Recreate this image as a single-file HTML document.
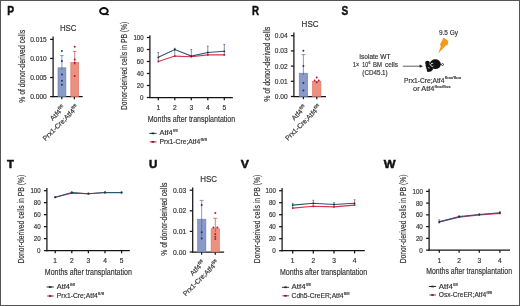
<!DOCTYPE html>
<html><head><meta charset="utf-8"><style>
html,body{margin:0;padding:0;background:#fff;}
#c{position:relative;width:520px;height:306px;overflow:hidden;background:#fff;}
svg{position:absolute;left:0;top:0;font-family:"Liberation Sans", sans-serif;will-change:transform;}
text{stroke:#333;stroke-width:0.18px;}
</style></head><body><div id="c">
<svg width="520" height="306" viewBox="0 0 520 306">
<rect x="0" y="0" width="520" height="306" fill="#fff"/>
<text x="7.30" y="15.40" font-size="12.2" font-weight="bold" fill="#111" style="stroke:#111;stroke-width:0.5px" textLength="6.80" lengthAdjust="spacingAndGlyphs">P</text>
<ellipse cx="103.9" cy="11.1" rx="3.8" ry="3.1" fill="none" stroke="#111" stroke-width="2.0"/>
<path d="M105.2,13.6 L109.0,14.2 L109.0,15.3 L105.0,15.0 Z" fill="#111"/>
<text x="252.00" y="15.40" font-size="12.2" font-weight="bold" fill="#111" style="stroke:#111;stroke-width:0.5px" textLength="7.00" lengthAdjust="spacingAndGlyphs">R</text>
<text x="341.60" y="15.40" font-size="12.2" font-weight="bold" fill="#111" style="stroke:#111;stroke-width:0.5px" textLength="6.70" lengthAdjust="spacingAndGlyphs">S</text>
<text x="6.90" y="168.30" font-size="11.3" font-weight="bold" fill="#111" style="stroke:#111;stroke-width:0.5px" textLength="6.90" lengthAdjust="spacingAndGlyphs">T</text>
<text x="148.90" y="168.30" font-size="11.3" font-weight="bold" fill="#111" style="stroke:#111;stroke-width:0.5px" textLength="8.30" lengthAdjust="spacingAndGlyphs">U</text>
<text x="240.70" y="168.30" font-size="11.3" font-weight="bold" fill="#111" style="stroke:#111;stroke-width:0.5px" textLength="8.20" lengthAdjust="spacingAndGlyphs">V</text>
<text x="383.80" y="168.30" font-size="11.3" font-weight="bold" fill="#111" style="stroke:#111;stroke-width:0.5px" textLength="11.80" lengthAdjust="spacingAndGlyphs">W</text>
<line x1="53.10" y1="36.60" x2="53.10" y2="97.22" stroke="#141414" stroke-width="1.25" />
<line x1="50.10" y1="39.39" x2="53.10" y2="39.39" stroke="#141414" stroke-width="1.25" />
<text x="46.80" y="41.97" font-size="7.2" text-anchor="end" fill="#333" font-weight="normal" textLength="16.60" lengthAdjust="spacingAndGlyphs" >0.015</text>
<line x1="50.10" y1="58.46" x2="53.10" y2="58.46" stroke="#141414" stroke-width="1.25" />
<text x="46.80" y="61.04" font-size="7.2" text-anchor="end" fill="#333" font-weight="normal" textLength="16.60" lengthAdjust="spacingAndGlyphs" >0.010</text>
<line x1="50.10" y1="77.53" x2="53.10" y2="77.53" stroke="#141414" stroke-width="1.25" />
<text x="46.80" y="80.11" font-size="7.2" text-anchor="end" fill="#333" font-weight="normal" textLength="16.60" lengthAdjust="spacingAndGlyphs" >0.005</text>
<line x1="50.10" y1="96.60" x2="53.10" y2="96.60" stroke="#141414" stroke-width="1.25" />
<text x="46.80" y="99.18" font-size="7.2" text-anchor="end" fill="#333" font-weight="normal" textLength="16.60" lengthAdjust="spacingAndGlyphs" >0.000</text>
<line x1="52.48" y1="96.60" x2="82.70" y2="96.60" stroke="#141414" stroke-width="1.25" />
<line x1="61.80" y1="96.60" x2="61.80" y2="99.30" stroke="#141414" stroke-width="1.25" />
<line x1="74.40" y1="96.60" x2="74.40" y2="99.30" stroke="#141414" stroke-width="1.25" />
<rect x="58.00" y="67.80" width="7.90" height="28.80" fill="#8a9ac8" stroke="#6a7fb0" stroke-width="0.6"/>
<rect x="70.80" y="62.50" width="7.90" height="34.10" fill="#ec907f" stroke="#dc7062" stroke-width="0.6"/>
<line x1="61.90" y1="55.60" x2="61.90" y2="70.00" stroke="#4562a0" stroke-width="0.65" />
<line x1="60.10" y1="55.60" x2="63.70" y2="55.60" stroke="#4562a0" stroke-width="0.65" />
<line x1="74.70" y1="51.40" x2="74.70" y2="65.00" stroke="#c83848" stroke-width="0.65" />
<line x1="72.90" y1="51.40" x2="76.50" y2="51.40" stroke="#c83848" stroke-width="0.65" />
<circle cx="61.90" cy="51.00" r="1.0" fill="#22366a"/>
<circle cx="61.90" cy="61.00" r="1.0" fill="#22366a"/>
<circle cx="61.90" cy="74.50" r="1.0" fill="#22366a"/>
<circle cx="61.90" cy="80.80" r="1.0" fill="#22366a"/>
<circle cx="61.90" cy="84.70" r="1.0" fill="#22366a"/>
<circle cx="74.70" cy="46.80" r="1.0" fill="#b8182e"/>
<circle cx="74.70" cy="59.60" r="1.0" fill="#b8182e"/>
<circle cx="74.70" cy="63.00" r="1.0" fill="#b8182e"/>
<circle cx="74.70" cy="76.00" r="1.0" fill="#b8182e"/>
<text x="59.90" y="31.00" font-size="8.6" text-anchor="start" fill="#333" font-weight="normal" textLength="16.60" lengthAdjust="spacingAndGlyphs" >HSC</text>
<text transform="translate(24.90,66.30) rotate(-90)" x="0" y="0" font-size="9.0" text-anchor="middle" fill="#333" textLength="73.00" lengthAdjust="spacingAndGlyphs">% of donor-derived cells</text>
<text transform="translate(65.40,108.40) rotate(-45)" font-size="6.9" text-anchor="end" fill="#333">Atf4<tspan font-size="4.28" dy="-2.90">fl/fl</tspan></text>
<text transform="translate(79.00,107.80) rotate(-45)" font-size="6.9" text-anchor="end" fill="#333">Prx1-Cre;Atf4<tspan font-size="4.28" dy="-2.90">fl/fl</tspan></text>
<line x1="293.90" y1="32.60" x2="293.90" y2="97.12" stroke="#141414" stroke-width="1.25" />
<line x1="290.90" y1="35.70" x2="293.90" y2="35.70" stroke="#141414" stroke-width="1.25" />
<text x="287.60" y="38.28" font-size="7.2" text-anchor="end" fill="#333" font-weight="normal" textLength="12.80" lengthAdjust="spacingAndGlyphs" >0.04</text>
<line x1="290.90" y1="50.90" x2="293.90" y2="50.90" stroke="#141414" stroke-width="1.25" />
<text x="287.60" y="53.48" font-size="7.2" text-anchor="end" fill="#333" font-weight="normal" textLength="12.80" lengthAdjust="spacingAndGlyphs" >0.03</text>
<line x1="290.90" y1="66.10" x2="293.90" y2="66.10" stroke="#141414" stroke-width="1.25" />
<text x="287.60" y="68.68" font-size="7.2" text-anchor="end" fill="#333" font-weight="normal" textLength="12.80" lengthAdjust="spacingAndGlyphs" >0.02</text>
<line x1="290.90" y1="81.30" x2="293.90" y2="81.30" stroke="#141414" stroke-width="1.25" />
<text x="287.60" y="83.88" font-size="7.2" text-anchor="end" fill="#333" font-weight="normal" textLength="12.80" lengthAdjust="spacingAndGlyphs" >0.01</text>
<line x1="290.90" y1="96.50" x2="293.90" y2="96.50" stroke="#141414" stroke-width="1.25" />
<text x="287.60" y="99.08" font-size="7.2" text-anchor="end" fill="#333" font-weight="normal" textLength="12.80" lengthAdjust="spacingAndGlyphs" >0.00</text>
<line x1="293.27" y1="96.50" x2="326.00" y2="96.50" stroke="#141414" stroke-width="1.25" />
<line x1="303.40" y1="96.50" x2="303.40" y2="99.20" stroke="#141414" stroke-width="1.25" />
<line x1="316.80" y1="96.50" x2="316.80" y2="99.20" stroke="#141414" stroke-width="1.25" />
<rect x="299.20" y="73.20" width="8.40" height="23.30" fill="#8a9ac8" stroke="#6a7fb0" stroke-width="0.6"/>
<rect x="312.50" y="81.40" width="8.40" height="15.10" fill="#ec907f" stroke="#dc7062" stroke-width="0.6"/>
<line x1="303.40" y1="54.60" x2="303.40" y2="75.00" stroke="#4562a0" stroke-width="0.65" />
<line x1="301.40" y1="54.60" x2="305.40" y2="54.60" stroke="#4562a0" stroke-width="0.65" />
<circle cx="303.40" cy="50.80" r="1.0" fill="#22366a"/>
<circle cx="303.40" cy="66.10" r="1.0" fill="#22366a"/>
<circle cx="303.40" cy="83.10" r="1.0" fill="#22366a"/>
<circle cx="303.40" cy="90.60" r="1.0" fill="#22366a"/>
<circle cx="316.70" cy="77.60" r="1.0" fill="#b8182e"/>
<circle cx="314.60" cy="80.50" r="1.0" fill="#b8182e"/>
<circle cx="318.70" cy="80.50" r="1.0" fill="#b8182e"/>
<circle cx="316.70" cy="82.20" r="1.0" fill="#b8182e"/>
<text x="301.60" y="27.00" font-size="8.6" text-anchor="start" fill="#333" font-weight="normal" textLength="17.00" lengthAdjust="spacingAndGlyphs" >HSC</text>
<text transform="translate(269.60,64.30) rotate(-90)" x="0" y="0" font-size="9.0" text-anchor="middle" fill="#333" textLength="75.00" lengthAdjust="spacingAndGlyphs">% of donor-derived cells</text>
<text transform="translate(306.90,108.10) rotate(-45)" font-size="6.9" text-anchor="end" fill="#333">Atf4<tspan font-size="4.28" dy="-2.90">fl/fl</tspan></text>
<text transform="translate(321.40,107.60) rotate(-45)" font-size="6.9" text-anchor="end" fill="#333">Prx1-Cre;Atf4<tspan font-size="4.28" dy="-2.90">fl/fl</tspan></text>
<line x1="192.70" y1="187.60" x2="192.70" y2="252.62" stroke="#141414" stroke-width="1.25" />
<line x1="189.70" y1="190.20" x2="192.70" y2="190.20" stroke="#141414" stroke-width="1.25" />
<text x="186.30" y="192.78" font-size="7.2" text-anchor="end" fill="#333" font-weight="normal" textLength="13.20" lengthAdjust="spacingAndGlyphs" >0.03</text>
<line x1="189.70" y1="210.80" x2="192.70" y2="210.80" stroke="#141414" stroke-width="1.25" />
<text x="186.30" y="213.38" font-size="7.2" text-anchor="end" fill="#333" font-weight="normal" textLength="13.20" lengthAdjust="spacingAndGlyphs" >0.02</text>
<line x1="189.70" y1="231.40" x2="192.70" y2="231.40" stroke="#141414" stroke-width="1.25" />
<text x="186.30" y="233.98" font-size="7.2" text-anchor="end" fill="#333" font-weight="normal" textLength="13.20" lengthAdjust="spacingAndGlyphs" >0.01</text>
<line x1="189.70" y1="252.00" x2="192.70" y2="252.00" stroke="#141414" stroke-width="1.25" />
<text x="186.30" y="254.58" font-size="7.2" text-anchor="end" fill="#333" font-weight="normal" textLength="13.20" lengthAdjust="spacingAndGlyphs" >0.00</text>
<line x1="192.07" y1="252.00" x2="224.10" y2="252.00" stroke="#141414" stroke-width="1.25" />
<line x1="201.60" y1="252.00" x2="201.60" y2="254.70" stroke="#141414" stroke-width="1.25" />
<line x1="215.30" y1="252.00" x2="215.30" y2="254.70" stroke="#141414" stroke-width="1.25" />
<rect x="197.60" y="219.20" width="8.30" height="32.80" fill="#8a9ac8" stroke="#6a7fb0" stroke-width="0.6"/>
<rect x="211.10" y="228.70" width="8.30" height="23.30" fill="#ec907f" stroke="#dc7062" stroke-width="0.6"/>
<line x1="201.70" y1="200.40" x2="201.70" y2="238.60" stroke="#4562a0" stroke-width="0.65" />
<line x1="199.70" y1="200.40" x2="203.70" y2="200.40" stroke="#4562a0" stroke-width="0.65" />
<line x1="215.30" y1="218.30" x2="215.30" y2="232.00" stroke="#c83848" stroke-width="0.65" />
<line x1="213.20" y1="218.30" x2="217.40" y2="218.30" stroke="#c83848" stroke-width="0.65" />
<circle cx="201.70" cy="204.90" r="1.0" fill="#22366a"/>
<circle cx="201.70" cy="232.20" r="1.0" fill="#22366a"/>
<circle cx="201.70" cy="238.60" r="1.0" fill="#22366a"/>
<circle cx="215.30" cy="213.00" r="1.0" fill="#b8182e"/>
<circle cx="213.40" cy="227.60" r="1.0" fill="#b8182e"/>
<circle cx="217.30" cy="227.60" r="1.0" fill="#b8182e"/>
<circle cx="215.30" cy="233.90" r="1.0" fill="#b8182e"/>
<circle cx="215.30" cy="236.70" r="1.0" fill="#b8182e"/>
<circle cx="215.30" cy="239.00" r="1.0" fill="#b8182e"/>
<text x="200.30" y="182.40" font-size="8.6" text-anchor="start" fill="#333" font-weight="normal" textLength="16.80" lengthAdjust="spacingAndGlyphs" >HSC</text>
<text transform="translate(167.20,219.20) rotate(-90)" x="0" y="0" font-size="8.2" text-anchor="middle" fill="#333" textLength="73.00" lengthAdjust="spacingAndGlyphs">% of donor-derived cells</text>
<text transform="translate(205.30,263.40) rotate(-45)" font-size="6.9" text-anchor="end" fill="#333">Atf4<tspan font-size="4.28" dy="-2.90">fl/fl</tspan></text>
<text transform="translate(219.20,263.00) rotate(-45)" font-size="6.9" text-anchor="end" fill="#333">Prx1-Cre;Atf4<tspan font-size="4.28" dy="-2.90">fl/fl</tspan></text>
<line x1="149.90" y1="35.30" x2="149.90" y2="98.12" stroke="#141414" stroke-width="1.25" />
<line x1="146.90" y1="37.50" x2="149.90" y2="37.50" stroke="#141414" stroke-width="1.25" />
<text x="143.60" y="40.08" font-size="7.2" text-anchor="end" fill="#333" font-weight="normal" textLength="10.20" lengthAdjust="spacingAndGlyphs" >100</text>
<line x1="146.90" y1="49.50" x2="149.90" y2="49.50" stroke="#141414" stroke-width="1.25" />
<text x="143.60" y="52.08" font-size="7.2" text-anchor="end" fill="#333" font-weight="normal" textLength="6.90" lengthAdjust="spacingAndGlyphs" >80</text>
<line x1="146.90" y1="61.50" x2="149.90" y2="61.50" stroke="#141414" stroke-width="1.25" />
<text x="143.60" y="64.08" font-size="7.2" text-anchor="end" fill="#333" font-weight="normal" textLength="6.90" lengthAdjust="spacingAndGlyphs" >60</text>
<line x1="146.90" y1="73.50" x2="149.90" y2="73.50" stroke="#141414" stroke-width="1.25" />
<text x="143.60" y="76.08" font-size="7.2" text-anchor="end" fill="#333" font-weight="normal" textLength="6.90" lengthAdjust="spacingAndGlyphs" >40</text>
<line x1="146.90" y1="85.50" x2="149.90" y2="85.50" stroke="#141414" stroke-width="1.25" />
<text x="143.60" y="88.08" font-size="7.2" text-anchor="end" fill="#333" font-weight="normal" textLength="6.90" lengthAdjust="spacingAndGlyphs" >20</text>
<line x1="146.90" y1="97.50" x2="149.90" y2="97.50" stroke="#141414" stroke-width="1.25" />
<text x="143.60" y="100.08" font-size="7.2" text-anchor="end" fill="#333" font-weight="normal" textLength="3.50" lengthAdjust="spacingAndGlyphs" >0</text>
<line x1="149.28" y1="97.50" x2="232.90" y2="97.50" stroke="#141414" stroke-width="1.25" />
<line x1="158.30" y1="97.50" x2="158.30" y2="100.20" stroke="#141414" stroke-width="1.25" />
<line x1="174.80" y1="97.50" x2="174.80" y2="100.20" stroke="#141414" stroke-width="1.25" />
<line x1="191.30" y1="97.50" x2="191.30" y2="100.20" stroke="#141414" stroke-width="1.25" />
<line x1="207.80" y1="97.50" x2="207.80" y2="100.20" stroke="#141414" stroke-width="1.25" />
<line x1="224.30" y1="97.50" x2="224.30" y2="100.20" stroke="#141414" stroke-width="1.25" />
<text x="158.30" y="109.91" font-size="7.0" text-anchor="middle" fill="#333" font-weight="normal" textLength="3.70" lengthAdjust="spacingAndGlyphs" >1</text>
<text x="174.80" y="109.91" font-size="7.0" text-anchor="middle" fill="#333" font-weight="normal" textLength="3.70" lengthAdjust="spacingAndGlyphs" >2</text>
<text x="191.30" y="109.91" font-size="7.0" text-anchor="middle" fill="#333" font-weight="normal" textLength="3.70" lengthAdjust="spacingAndGlyphs" >3</text>
<text x="207.80" y="109.91" font-size="7.0" text-anchor="middle" fill="#333" font-weight="normal" textLength="3.70" lengthAdjust="spacingAndGlyphs" >4</text>
<text x="224.30" y="109.91" font-size="7.0" text-anchor="middle" fill="#333" font-weight="normal" textLength="3.70" lengthAdjust="spacingAndGlyphs" >5</text>
<text x="191.45" y="121.80" font-size="9.2" text-anchor="middle" fill="#333" font-weight="normal" textLength="87.50" lengthAdjust="spacingAndGlyphs" >Months after transplantation</text>
<text transform="translate(126.50,65.85) rotate(-90)" x="0" y="0" font-size="8.8" text-anchor="middle" fill="#333" textLength="88.30" lengthAdjust="spacingAndGlyphs">Donor-derived cells in PB (%)</text>
<line x1="158.30" y1="52.50" x2="158.30" y2="61.50" stroke="#3e526a" stroke-width="0.65" />
<line x1="157.40" y1="52.50" x2="159.20" y2="52.50" stroke="#3e526a" stroke-width="0.65" />
<line x1="174.80" y1="48.30" x2="174.80" y2="56.10" stroke="#3e526a" stroke-width="0.65" />
<line x1="173.90" y1="48.30" x2="175.70" y2="48.30" stroke="#3e526a" stroke-width="0.65" />
<line x1="191.30" y1="49.50" x2="191.30" y2="56.70" stroke="#3e526a" stroke-width="0.65" />
<line x1="190.40" y1="49.50" x2="192.20" y2="49.50" stroke="#3e526a" stroke-width="0.65" />
<line x1="207.80" y1="46.20" x2="207.80" y2="54.90" stroke="#3e526a" stroke-width="0.65" />
<line x1="206.90" y1="46.20" x2="208.70" y2="46.20" stroke="#3e526a" stroke-width="0.65" />
<line x1="224.30" y1="44.40" x2="224.30" y2="54.90" stroke="#3e526a" stroke-width="0.65" />
<line x1="223.40" y1="44.40" x2="225.20" y2="44.40" stroke="#3e526a" stroke-width="0.65" />
<polyline points="158.30,61.50 174.80,56.10 191.30,56.70 207.80,54.90 224.30,54.90" fill="none" stroke="#dc2f4c" stroke-width="1.1"/>
<polyline points="158.30,57.30 174.80,49.50 191.30,56.10 207.80,52.50 224.30,51.30" fill="none" stroke="#2a5676" stroke-width="1.1"/>
<circle cx="158.30" cy="61.50" r="0.9" fill="#b01830"/>
<circle cx="174.80" cy="56.10" r="0.9" fill="#b01830"/>
<circle cx="191.30" cy="56.70" r="0.9" fill="#b01830"/>
<circle cx="207.80" cy="54.90" r="0.9" fill="#b01830"/>
<circle cx="224.30" cy="54.90" r="0.9" fill="#b01830"/>
<circle cx="158.30" cy="57.30" r="0.9" fill="#1c2f44"/>
<circle cx="174.80" cy="49.50" r="0.9" fill="#1c2f44"/>
<circle cx="191.30" cy="56.10" r="0.9" fill="#1c2f44"/>
<circle cx="207.80" cy="52.50" r="0.9" fill="#1c2f44"/>
<circle cx="224.30" cy="51.30" r="0.9" fill="#1c2f44"/>
<line x1="149.30" y1="133.40" x2="156.50" y2="133.40" stroke="#1e4048" stroke-width="1.0" />
<line x1="151.60" y1="133.40" x2="154.20" y2="133.40" stroke="#10262c" stroke-width="1.6" />
<line x1="149.80" y1="141.90" x2="156.50" y2="141.90" stroke="#b02a44" stroke-width="1.0" />
<line x1="151.60" y1="141.90" x2="154.20" y2="141.90" stroke="#7a1424" stroke-width="1.6" />
<text x="159.50" y="135.40" font-size="7.0" text-anchor="start" fill="#333" font-weight="normal" textLength="13.20" lengthAdjust="spacingAndGlyphs" >Atf4</text>
<text x="173.00" y="132.40" font-size="4.2" text-anchor="start" fill="#333" font-weight="normal" textLength="4.50" lengthAdjust="spacingAndGlyphs" >fl/fl</text>
<text x="159.50" y="143.90" font-size="7.0" text-anchor="start" fill="#333" font-weight="normal" textLength="40.70" lengthAdjust="spacingAndGlyphs" >Prx1-Cre;Atf4</text>
<text x="200.50" y="140.90" font-size="4.2" text-anchor="start" fill="#333" font-weight="normal" textLength="6.40" lengthAdjust="spacingAndGlyphs" >fl/fl</text>
<line x1="46.90" y1="188.10" x2="46.90" y2="251.22" stroke="#141414" stroke-width="1.25" />
<line x1="43.90" y1="190.70" x2="46.90" y2="190.70" stroke="#141414" stroke-width="1.25" />
<text x="40.60" y="193.28" font-size="7.2" text-anchor="end" fill="#333" font-weight="normal" textLength="10.20" lengthAdjust="spacingAndGlyphs" >100</text>
<line x1="43.90" y1="202.68" x2="46.90" y2="202.68" stroke="#141414" stroke-width="1.25" />
<text x="40.60" y="205.26" font-size="7.2" text-anchor="end" fill="#333" font-weight="normal" textLength="6.90" lengthAdjust="spacingAndGlyphs" >80</text>
<line x1="43.90" y1="214.66" x2="46.90" y2="214.66" stroke="#141414" stroke-width="1.25" />
<text x="40.60" y="217.24" font-size="7.2" text-anchor="end" fill="#333" font-weight="normal" textLength="6.90" lengthAdjust="spacingAndGlyphs" >60</text>
<line x1="43.90" y1="226.64" x2="46.90" y2="226.64" stroke="#141414" stroke-width="1.25" />
<text x="40.60" y="229.22" font-size="7.2" text-anchor="end" fill="#333" font-weight="normal" textLength="6.90" lengthAdjust="spacingAndGlyphs" >40</text>
<line x1="43.90" y1="238.62" x2="46.90" y2="238.62" stroke="#141414" stroke-width="1.25" />
<text x="40.60" y="241.20" font-size="7.2" text-anchor="end" fill="#333" font-weight="normal" textLength="6.90" lengthAdjust="spacingAndGlyphs" >20</text>
<line x1="43.90" y1="250.60" x2="46.90" y2="250.60" stroke="#141414" stroke-width="1.25" />
<text x="40.60" y="253.18" font-size="7.2" text-anchor="end" fill="#333" font-weight="normal" textLength="3.50" lengthAdjust="spacingAndGlyphs" >0</text>
<line x1="46.27" y1="250.60" x2="129.80" y2="250.60" stroke="#141414" stroke-width="1.25" />
<line x1="55.20" y1="250.60" x2="55.20" y2="253.30" stroke="#141414" stroke-width="1.25" />
<line x1="71.80" y1="250.60" x2="71.80" y2="253.30" stroke="#141414" stroke-width="1.25" />
<line x1="88.40" y1="250.60" x2="88.40" y2="253.30" stroke="#141414" stroke-width="1.25" />
<line x1="105.00" y1="250.60" x2="105.00" y2="253.30" stroke="#141414" stroke-width="1.25" />
<line x1="121.60" y1="250.60" x2="121.60" y2="253.30" stroke="#141414" stroke-width="1.25" />
<text x="55.20" y="263.01" font-size="7.0" text-anchor="middle" fill="#333" font-weight="normal" textLength="3.70" lengthAdjust="spacingAndGlyphs" >1</text>
<text x="71.80" y="263.01" font-size="7.0" text-anchor="middle" fill="#333" font-weight="normal" textLength="3.70" lengthAdjust="spacingAndGlyphs" >2</text>
<text x="88.40" y="263.01" font-size="7.0" text-anchor="middle" fill="#333" font-weight="normal" textLength="3.70" lengthAdjust="spacingAndGlyphs" >3</text>
<text x="105.00" y="263.01" font-size="7.0" text-anchor="middle" fill="#333" font-weight="normal" textLength="3.70" lengthAdjust="spacingAndGlyphs" >4</text>
<text x="121.60" y="263.01" font-size="7.0" text-anchor="middle" fill="#333" font-weight="normal" textLength="3.70" lengthAdjust="spacingAndGlyphs" >5</text>
<text x="88.30" y="274.90" font-size="9.2" text-anchor="middle" fill="#333" font-weight="normal" textLength="87.00" lengthAdjust="spacingAndGlyphs" >Months after transplantation</text>
<text transform="translate(23.60,219.20) rotate(-90)" x="0" y="0" font-size="8.8" text-anchor="middle" fill="#333" textLength="88.80" lengthAdjust="spacingAndGlyphs">Donor-derived cells in PB (%)</text>
<line x1="55.20" y1="196.69" x2="55.20" y2="197.29" stroke="#3e526a" stroke-width="0.65" />
<line x1="54.30" y1="196.69" x2="56.10" y2="196.69" stroke="#3e526a" stroke-width="0.65" />
<line x1="71.80" y1="191.90" x2="71.80" y2="193.10" stroke="#3e526a" stroke-width="0.65" />
<line x1="70.90" y1="191.90" x2="72.70" y2="191.90" stroke="#3e526a" stroke-width="0.65" />
<line x1="88.40" y1="193.10" x2="88.40" y2="193.69" stroke="#3e526a" stroke-width="0.65" />
<line x1="87.50" y1="193.10" x2="89.30" y2="193.10" stroke="#3e526a" stroke-width="0.65" />
<line x1="105.00" y1="191.90" x2="105.00" y2="192.50" stroke="#3e526a" stroke-width="0.65" />
<line x1="104.10" y1="191.90" x2="105.90" y2="191.90" stroke="#3e526a" stroke-width="0.65" />
<line x1="121.60" y1="191.90" x2="121.60" y2="192.80" stroke="#3e526a" stroke-width="0.65" />
<line x1="120.70" y1="191.90" x2="122.50" y2="191.90" stroke="#3e526a" stroke-width="0.65" />
<polyline points="55.20,197.29 71.80,193.10 88.40,193.69 105.00,192.50 121.60,192.80" fill="none" stroke="#dc2f4c" stroke-width="1.1"/>
<polyline points="55.20,197.29 71.80,192.50 88.40,193.69 105.00,192.50 121.60,192.50" fill="none" stroke="#2a5676" stroke-width="1.1"/>
<circle cx="55.20" cy="197.29" r="0.9" fill="#b01830"/>
<circle cx="71.80" cy="193.10" r="0.9" fill="#b01830"/>
<circle cx="88.40" cy="193.69" r="0.9" fill="#b01830"/>
<circle cx="105.00" cy="192.50" r="0.9" fill="#b01830"/>
<circle cx="121.60" cy="192.80" r="0.9" fill="#b01830"/>
<circle cx="55.20" cy="197.29" r="0.9" fill="#1c2f44"/>
<circle cx="71.80" cy="192.50" r="0.9" fill="#1c2f44"/>
<circle cx="88.40" cy="193.69" r="0.9" fill="#1c2f44"/>
<circle cx="105.00" cy="192.50" r="0.9" fill="#1c2f44"/>
<circle cx="121.60" cy="192.50" r="0.9" fill="#1c2f44"/>
<line x1="46.60" y1="287.00" x2="53.80" y2="287.00" stroke="#1e4048" stroke-width="1.0" />
<line x1="48.90" y1="287.00" x2="51.50" y2="287.00" stroke="#10262c" stroke-width="1.6" />
<line x1="47.10" y1="296.00" x2="53.80" y2="296.00" stroke="#b02a44" stroke-width="1.0" />
<line x1="48.90" y1="296.00" x2="51.50" y2="296.00" stroke="#7a1424" stroke-width="1.6" />
<text x="56.80" y="289.00" font-size="7.0" text-anchor="start" fill="#333" font-weight="normal" textLength="13.20" lengthAdjust="spacingAndGlyphs" >Atf4</text>
<text x="70.30" y="286.00" font-size="4.2" text-anchor="start" fill="#333" font-weight="normal" textLength="4.90" lengthAdjust="spacingAndGlyphs" >fl/fl</text>
<text x="56.80" y="298.00" font-size="7.0" text-anchor="start" fill="#333" font-weight="normal" textLength="41.00" lengthAdjust="spacingAndGlyphs" >Prx1-Cre;Atf4</text>
<text x="98.10" y="295.00" font-size="4.2" text-anchor="start" fill="#333" font-weight="normal" textLength="5.90" lengthAdjust="spacingAndGlyphs" >fl/fl</text>
<line x1="282.10" y1="188.10" x2="282.10" y2="251.32" stroke="#141414" stroke-width="1.25" />
<line x1="279.10" y1="190.70" x2="282.10" y2="190.70" stroke="#141414" stroke-width="1.25" />
<text x="275.80" y="193.28" font-size="7.2" text-anchor="end" fill="#333" font-weight="normal" textLength="10.20" lengthAdjust="spacingAndGlyphs" >100</text>
<line x1="279.10" y1="202.70" x2="282.10" y2="202.70" stroke="#141414" stroke-width="1.25" />
<text x="275.80" y="205.28" font-size="7.2" text-anchor="end" fill="#333" font-weight="normal" textLength="6.90" lengthAdjust="spacingAndGlyphs" >80</text>
<line x1="279.10" y1="214.70" x2="282.10" y2="214.70" stroke="#141414" stroke-width="1.25" />
<text x="275.80" y="217.28" font-size="7.2" text-anchor="end" fill="#333" font-weight="normal" textLength="6.90" lengthAdjust="spacingAndGlyphs" >60</text>
<line x1="279.10" y1="226.70" x2="282.10" y2="226.70" stroke="#141414" stroke-width="1.25" />
<text x="275.80" y="229.28" font-size="7.2" text-anchor="end" fill="#333" font-weight="normal" textLength="6.90" lengthAdjust="spacingAndGlyphs" >40</text>
<line x1="279.10" y1="238.70" x2="282.10" y2="238.70" stroke="#141414" stroke-width="1.25" />
<text x="275.80" y="241.28" font-size="7.2" text-anchor="end" fill="#333" font-weight="normal" textLength="6.90" lengthAdjust="spacingAndGlyphs" >20</text>
<line x1="279.10" y1="250.70" x2="282.10" y2="250.70" stroke="#141414" stroke-width="1.25" />
<text x="275.80" y="253.28" font-size="7.2" text-anchor="end" fill="#333" font-weight="normal" textLength="3.50" lengthAdjust="spacingAndGlyphs" >0</text>
<line x1="281.48" y1="250.70" x2="364.80" y2="250.70" stroke="#141414" stroke-width="1.25" />
<line x1="292.70" y1="250.70" x2="292.70" y2="253.40" stroke="#141414" stroke-width="1.25" />
<line x1="313.30" y1="250.70" x2="313.30" y2="253.40" stroke="#141414" stroke-width="1.25" />
<line x1="334.00" y1="250.70" x2="334.00" y2="253.40" stroke="#141414" stroke-width="1.25" />
<line x1="354.60" y1="250.70" x2="354.60" y2="253.40" stroke="#141414" stroke-width="1.25" />
<text x="292.70" y="263.11" font-size="7.0" text-anchor="middle" fill="#333" font-weight="normal" textLength="3.70" lengthAdjust="spacingAndGlyphs" >1</text>
<text x="313.30" y="263.11" font-size="7.0" text-anchor="middle" fill="#333" font-weight="normal" textLength="3.70" lengthAdjust="spacingAndGlyphs" >2</text>
<text x="334.00" y="263.11" font-size="7.0" text-anchor="middle" fill="#333" font-weight="normal" textLength="3.70" lengthAdjust="spacingAndGlyphs" >3</text>
<text x="354.60" y="263.11" font-size="7.0" text-anchor="middle" fill="#333" font-weight="normal" textLength="3.70" lengthAdjust="spacingAndGlyphs" >4</text>
<text x="323.55" y="275.00" font-size="9.2" text-anchor="middle" fill="#333" font-weight="normal" textLength="87.10" lengthAdjust="spacingAndGlyphs" >Months after transplantation</text>
<text transform="translate(259.80,219.05) rotate(-90)" x="0" y="0" font-size="8.8" text-anchor="middle" fill="#333" textLength="88.50" lengthAdjust="spacingAndGlyphs">Donor-derived cells in PB (%)</text>
<line x1="292.70" y1="203.30" x2="292.70" y2="208.10" stroke="#3e526a" stroke-width="0.65" />
<line x1="291.80" y1="203.30" x2="293.60" y2="203.30" stroke="#3e526a" stroke-width="0.65" />
<line x1="313.30" y1="200.30" x2="313.30" y2="206.30" stroke="#3e526a" stroke-width="0.65" />
<line x1="312.40" y1="200.30" x2="314.20" y2="200.30" stroke="#3e526a" stroke-width="0.65" />
<line x1="334.00" y1="202.70" x2="334.00" y2="206.90" stroke="#3e526a" stroke-width="0.65" />
<line x1="333.10" y1="202.70" x2="334.90" y2="202.70" stroke="#3e526a" stroke-width="0.65" />
<line x1="354.60" y1="199.70" x2="354.60" y2="205.10" stroke="#3e526a" stroke-width="0.65" />
<line x1="353.70" y1="199.70" x2="355.50" y2="199.70" stroke="#3e526a" stroke-width="0.65" />
<polyline points="292.70,208.10 313.30,206.30 334.00,206.90 354.60,205.10" fill="none" stroke="#dc2f4c" stroke-width="1.1"/>
<polyline points="292.70,205.10 313.30,203.30 334.00,204.50 354.60,203.30" fill="none" stroke="#2a5676" stroke-width="1.1"/>
<circle cx="292.70" cy="208.10" r="0.9" fill="#b01830"/>
<circle cx="313.30" cy="206.30" r="0.9" fill="#b01830"/>
<circle cx="334.00" cy="206.90" r="0.9" fill="#b01830"/>
<circle cx="354.60" cy="205.10" r="0.9" fill="#b01830"/>
<circle cx="292.70" cy="205.10" r="0.9" fill="#1c2f44"/>
<circle cx="313.30" cy="203.30" r="0.9" fill="#1c2f44"/>
<circle cx="334.00" cy="204.50" r="0.9" fill="#1c2f44"/>
<circle cx="354.60" cy="203.30" r="0.9" fill="#1c2f44"/>
<line x1="281.90" y1="287.30" x2="289.10" y2="287.30" stroke="#1e4048" stroke-width="1.0" />
<line x1="284.20" y1="287.30" x2="286.80" y2="287.30" stroke="#10262c" stroke-width="1.6" />
<line x1="282.40" y1="295.80" x2="289.10" y2="295.80" stroke="#b02a44" stroke-width="1.0" />
<line x1="284.20" y1="295.80" x2="286.80" y2="295.80" stroke="#7a1424" stroke-width="1.6" />
<text x="291.60" y="289.30" font-size="7.0" text-anchor="start" fill="#333" font-weight="normal" textLength="14.00" lengthAdjust="spacingAndGlyphs" >Atf4</text>
<text x="305.90" y="286.30" font-size="4.2" text-anchor="start" fill="#333" font-weight="normal" textLength="4.80" lengthAdjust="spacingAndGlyphs" >fl/fl</text>
<text x="291.60" y="297.80" font-size="7.0" text-anchor="start" fill="#333" font-weight="normal" textLength="51.90" lengthAdjust="spacingAndGlyphs" >Cdh5-CreER;Atf4</text>
<text x="343.80" y="294.80" font-size="4.2" text-anchor="start" fill="#333" font-weight="normal" textLength="5.80" lengthAdjust="spacingAndGlyphs" >fl/fl</text>
<line x1="429.10" y1="188.70" x2="429.10" y2="250.72" stroke="#141414" stroke-width="1.25" />
<line x1="426.10" y1="191.35" x2="429.10" y2="191.35" stroke="#141414" stroke-width="1.25" />
<text x="422.80" y="193.93" font-size="7.2" text-anchor="end" fill="#333" font-weight="normal" textLength="10.20" lengthAdjust="spacingAndGlyphs" >100</text>
<line x1="426.10" y1="203.10" x2="429.10" y2="203.10" stroke="#141414" stroke-width="1.25" />
<text x="422.80" y="205.68" font-size="7.2" text-anchor="end" fill="#333" font-weight="normal" textLength="6.90" lengthAdjust="spacingAndGlyphs" >80</text>
<line x1="426.10" y1="214.85" x2="429.10" y2="214.85" stroke="#141414" stroke-width="1.25" />
<text x="422.80" y="217.43" font-size="7.2" text-anchor="end" fill="#333" font-weight="normal" textLength="6.90" lengthAdjust="spacingAndGlyphs" >60</text>
<line x1="426.10" y1="226.60" x2="429.10" y2="226.60" stroke="#141414" stroke-width="1.25" />
<text x="422.80" y="229.18" font-size="7.2" text-anchor="end" fill="#333" font-weight="normal" textLength="6.90" lengthAdjust="spacingAndGlyphs" >40</text>
<line x1="426.10" y1="238.35" x2="429.10" y2="238.35" stroke="#141414" stroke-width="1.25" />
<text x="422.80" y="240.93" font-size="7.2" text-anchor="end" fill="#333" font-weight="normal" textLength="6.90" lengthAdjust="spacingAndGlyphs" >20</text>
<line x1="426.10" y1="250.10" x2="429.10" y2="250.10" stroke="#141414" stroke-width="1.25" />
<text x="422.80" y="252.68" font-size="7.2" text-anchor="end" fill="#333" font-weight="normal" textLength="3.50" lengthAdjust="spacingAndGlyphs" >0</text>
<line x1="428.48" y1="250.10" x2="510.00" y2="250.10" stroke="#141414" stroke-width="1.25" />
<line x1="439.30" y1="250.10" x2="439.30" y2="252.80" stroke="#141414" stroke-width="1.25" />
<line x1="459.10" y1="250.10" x2="459.10" y2="252.80" stroke="#141414" stroke-width="1.25" />
<line x1="479.30" y1="250.10" x2="479.30" y2="252.80" stroke="#141414" stroke-width="1.25" />
<line x1="499.90" y1="250.10" x2="499.90" y2="252.80" stroke="#141414" stroke-width="1.25" />
<text x="439.30" y="262.51" font-size="7.0" text-anchor="middle" fill="#333" font-weight="normal" textLength="3.70" lengthAdjust="spacingAndGlyphs" >1</text>
<text x="459.10" y="262.51" font-size="7.0" text-anchor="middle" fill="#333" font-weight="normal" textLength="3.70" lengthAdjust="spacingAndGlyphs" >2</text>
<text x="479.30" y="262.51" font-size="7.0" text-anchor="middle" fill="#333" font-weight="normal" textLength="3.70" lengthAdjust="spacingAndGlyphs" >3</text>
<text x="499.90" y="262.51" font-size="7.0" text-anchor="middle" fill="#333" font-weight="normal" textLength="3.70" lengthAdjust="spacingAndGlyphs" >4</text>
<text x="469.10" y="274.40" font-size="9.2" text-anchor="middle" fill="#333" font-weight="normal" textLength="85.80" lengthAdjust="spacingAndGlyphs" >Months after transplantation</text>
<text transform="translate(406.40,218.95) rotate(-90)" x="0" y="0" font-size="8.8" text-anchor="middle" fill="#333" textLength="88.70" lengthAdjust="spacingAndGlyphs">Donor-derived cells in PB (%)</text>
<line x1="439.30" y1="219.84" x2="439.30" y2="223.66" stroke="#3e526a" stroke-width="0.65" />
<line x1="438.40" y1="219.84" x2="440.20" y2="219.84" stroke="#3e526a" stroke-width="0.65" />
<line x1="459.10" y1="215.73" x2="459.10" y2="217.79" stroke="#3e526a" stroke-width="0.65" />
<line x1="458.20" y1="215.73" x2="460.00" y2="215.73" stroke="#3e526a" stroke-width="0.65" />
<line x1="479.30" y1="213.67" x2="479.30" y2="215.44" stroke="#3e526a" stroke-width="0.65" />
<line x1="478.40" y1="213.67" x2="480.20" y2="213.67" stroke="#3e526a" stroke-width="0.65" />
<line x1="499.90" y1="211.62" x2="499.90" y2="213.97" stroke="#3e526a" stroke-width="0.65" />
<line x1="499.00" y1="211.62" x2="500.80" y2="211.62" stroke="#3e526a" stroke-width="0.65" />
<polyline points="439.30,221.90 459.10,217.20 479.30,214.85 499.90,213.38" fill="none" stroke="#dc2f4c" stroke-width="1.1"/>
<polyline points="439.30,221.90 459.10,216.61 479.30,214.56 499.90,212.79" fill="none" stroke="#2a5676" stroke-width="1.1"/>
<circle cx="439.30" cy="221.90" r="0.9" fill="#b01830"/>
<circle cx="459.10" cy="217.20" r="0.9" fill="#b01830"/>
<circle cx="479.30" cy="214.85" r="0.9" fill="#b01830"/>
<circle cx="499.90" cy="213.38" r="0.9" fill="#b01830"/>
<circle cx="439.30" cy="221.90" r="0.9" fill="#1c2f44"/>
<circle cx="459.10" cy="216.61" r="0.9" fill="#1c2f44"/>
<circle cx="479.30" cy="214.56" r="0.9" fill="#1c2f44"/>
<circle cx="499.90" cy="212.79" r="0.9" fill="#1c2f44"/>
<line x1="428.90" y1="286.50" x2="436.10" y2="286.50" stroke="#1e4048" stroke-width="1.0" />
<line x1="431.20" y1="286.50" x2="433.80" y2="286.50" stroke="#10262c" stroke-width="1.6" />
<line x1="429.40" y1="295.00" x2="436.10" y2="295.00" stroke="#b02a44" stroke-width="1.0" />
<line x1="431.20" y1="295.00" x2="433.80" y2="295.00" stroke="#7a1424" stroke-width="1.6" />
<text x="438.80" y="288.50" font-size="7.0" text-anchor="start" fill="#333" font-weight="normal" textLength="14.00" lengthAdjust="spacingAndGlyphs" >Atf4</text>
<text x="453.10" y="285.50" font-size="4.2" text-anchor="start" fill="#333" font-weight="normal" textLength="4.60" lengthAdjust="spacingAndGlyphs" >fl/fl</text>
<text x="438.80" y="297.00" font-size="7.0" text-anchor="start" fill="#333" font-weight="normal" textLength="47.40" lengthAdjust="spacingAndGlyphs" >Osx-CreER;Atf4</text>
<text x="486.50" y="294.00" font-size="4.2" text-anchor="start" fill="#333" font-weight="normal" textLength="5.50" lengthAdjust="spacingAndGlyphs" >fl/fl</text>
<text x="359.30" y="59.30" font-size="7.3" text-anchor="start" fill="#333" font-weight="normal" textLength="31.10" lengthAdjust="spacingAndGlyphs" >Isolate WT</text>
<text x="352.9" y="67.0" font-size="7.3" fill="#333"><tspan textLength="6.4" lengthAdjust="spacingAndGlyphs">1×</tspan></text>
<text x="362.30" y="67.00" font-size="7.3" text-anchor="start" fill="#333" font-weight="normal" textLength="5.80" lengthAdjust="spacingAndGlyphs" >10</text>
<text x="368.40" y="64.30" font-size="4.2" text-anchor="start" fill="#333" font-weight="normal" textLength="1.90" lengthAdjust="spacingAndGlyphs" >6</text>
<text x="373.00" y="67.00" font-size="7.3" text-anchor="start" fill="#333" font-weight="normal" textLength="8.90" lengthAdjust="spacingAndGlyphs" >BM</text>
<text x="384.90" y="67.00" font-size="7.3" text-anchor="start" fill="#333" font-weight="normal" textLength="13.00" lengthAdjust="spacingAndGlyphs" >cells</text>
<text x="362.30" y="75.00" font-size="7.3" text-anchor="start" fill="#333" font-weight="normal" textLength="25.40" lengthAdjust="spacingAndGlyphs" >(CD45.1)</text>
<line x1="402.80" y1="66.20" x2="420.60" y2="66.20" stroke="#333" stroke-width="0.8" />
<path d="M423.0,66.2 L419.6,64.6 L419.6,67.8 Z" fill="#222"/>
<text x="438.90" y="34.70" font-size="7.3" text-anchor="start" fill="#333" font-weight="normal" textLength="19.10" lengthAdjust="spacingAndGlyphs" >9.5 Gy</text>
<path d="M443.4,37.6 L448.4,41.0 L447.7,44.7 L445.6,45.8 L438.1,53.6 L440.8,46.6 L440.0,44.2 L441.9,41.0 Z" fill="#f29a1f"/>
<g fill="#111"><ellipse cx="435.3" cy="64.2" rx="5.5" ry="4.9"/><circle cx="427.5" cy="63.1" r="2.4"/><path d="M425.4,65.0 L431.5,64.6 L433.0,69.5 L431.0,71.5 L427.4,72.0 Z"/></g>
<path d="M433.2,63.6 A1.6,1.6 0 1 0 433.4,66.0" fill="none" stroke="#fff" stroke-width="0.8"/>
<path d="M427.9,67.5 L429.7,68.2" stroke="#e8e8e8" stroke-width="0.7"/>
<line x1="440.6" y1="64.4" x2="441.5" y2="64.5" stroke="#111" stroke-width="0.7"/>
<circle cx="442.5" cy="64.5" r="1.0" fill="none" stroke="#111" stroke-width="0.7"/>
<text x="404.10" y="82.50" font-size="7.3" text-anchor="start" fill="#333" font-weight="normal" textLength="40.30" lengthAdjust="spacingAndGlyphs" >Prx1-Cre;Atf4</text>
<text x="444.80" y="79.30" font-size="4.2" text-anchor="start" fill="#333" font-weight="normal" textLength="16.40" lengthAdjust="spacingAndGlyphs" >flox/flox</text>
<text x="413.10" y="91.40" font-size="7.3" text-anchor="start" fill="#333" font-weight="normal" textLength="21.30" lengthAdjust="spacingAndGlyphs" >or Atf4</text>
<text x="434.60" y="88.00" font-size="4.2" text-anchor="start" fill="#333" font-weight="normal" textLength="16.00" lengthAdjust="spacingAndGlyphs" >flox/flox</text>
<g fill="#555" shape-rendering="crispEdges">
<rect x="0" y="0" width="520" height="1"/>
<rect x="0" y="305" width="520" height="1"/>
<rect x="0" y="0" width="1" height="306"/>
<rect x="519" y="0" width="1" height="306"/>
</g>
</svg></div></body></html>
